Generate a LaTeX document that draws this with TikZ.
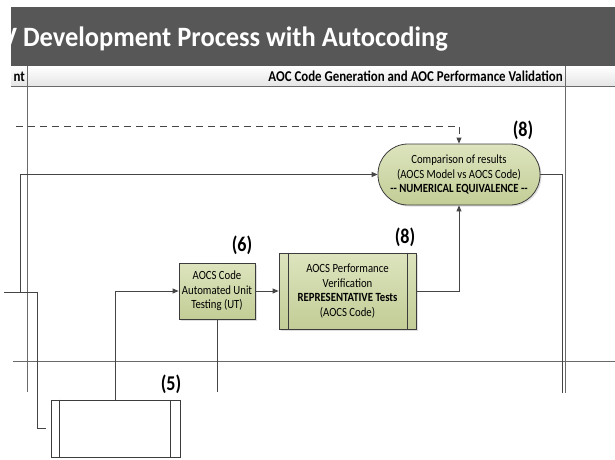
\documentclass[tikz,border=0pt]{standalone}
\usepackage{fontspec}
\setmainfont[FakeStretch=0.86]{Carlito}
\newfontfamily\titlefont[FakeStretch=0.945]{Carlito}
\usetikzlibrary{arrows.meta,shadows}

\definecolor{barGray}{HTML}{575757}
\definecolor{lineGray}{HTML}{454545}
\definecolor{laneGray}{HTML}{6A6A6A}
\definecolor{boxTop}{HTML}{DDE4BE}
\definecolor{boxBot}{HTML}{C2CD96}
\definecolor{boxEdge}{HTML}{3C3C3C}

\tikzset{
  conn/.style={draw=lineGray, line width=0.9pt},
  arr/.style={conn, -{Triangle[length=6pt,width=5pt]}},
  lane/.style={draw=laneGray, line width=0.8pt},
  task/.style={draw=boxEdge, line width=0.8pt, top color=boxTop, bottom color=boxBot,
    align=center, inner sep=0pt, font=\fontsize{12.5}{14.5}\selectfont,
    drop shadow={shadow xshift=1.5pt, shadow yshift=-1.5pt, opacity=0.25}},
  plainbox/.style={draw=boxEdge, line width=0.8pt, fill=white, inner sep=0pt},
  stepno/.style={font=\bfseries\fontsize{21}{23}\selectfont, inner sep=0pt},
}

\begin{document}
\begin{tikzpicture}[x=1pt, y=-1pt]
\useasboundingbox (0,0) rectangle (615,459);

% title bar, its text cut off at the bar's left edge
\fill[barGray] (11,7) rectangle (615,66);
\begin{scope}
  \clip (11,7) rectangle (615,66);
  \node[anchor=base east, text=white, inner sep=0pt,
        font=\titlefont\bfseries\fontsize{28}{32}\selectfont] (title) at (448,46)
    {V Development Process with Autocoding};
\end{scope}

% lane header row
\shade[top color=white, bottom color=black!10] (11,66) rectangle (615,86);
\draw[lane] (11,86) -- (615,86);
\node[anchor=base east, inner sep=0pt, font=\bfseries\fontsize{15}{16}\selectfont]
  (hleft) at (25,81) {nt};
\node[anchor=base east, inner sep=0pt, font=\bfseries\fontsize{15}{16}\selectfont]
  (hright) at (563,81) {AOC Code Generation and AOC Performance Validation};

% lane separators
\draw[lane] (27,66) -- (27,392);
\draw[lane] (565,66) -- (565,393);
\draw[lane] (13,361) -- (615,361);

% process boxes
\node[task, rounded corners=30pt, minimum width=162pt, minimum height=61pt] (cmp) at (459,174.5)
  {Comparison of results\\(AOCS Model vs AOCS Code)\\\textbf{-{}- NUMERICAL EQUIVALENCE -{}-}};
\node[task, minimum width=76pt, minimum height=56pt] (ut) at (217,291)
  {AOCS Code\\Automated Unit\\Testing (UT)};
\node[task, minimum width=137pt, minimum height=76pt] (perf) at (347.5,291)
  {AOCS Performance\\Verification\\\textbf{REPRESENTATIVE Tests}\\(AOCS Code)};
\draw[boxEdge, line width=0.8pt] ([xshift=10pt]perf.north west) -- ([xshift=10pt]perf.south west);
\draw[boxEdge, line width=0.8pt] ([xshift=-9pt]perf.north east) -- ([xshift=-9pt]perf.south east);

\node[plainbox, minimum width=129pt, minimum height=57pt] (gen) at (115.5,428.5) {};
\draw[boxEdge, line width=0.8pt] ([xshift=9pt]gen.north west) -- ([xshift=9pt]gen.south west);
\draw[boxEdge, line width=0.8pt] ([xshift=-10pt]gen.north east) -- ([xshift=-10pt]gen.south east);

% step numbers
\node[stepno] (n8a) at (523,130) {(8)};
\node[stepno] (n6) at (242,245) {(6)};
\node[stepno] (n8b) at (405,237) {(8)};
\node[stepno] (n5) at (171,384) {(5)};

% loose connector ends
\coordinate (dashIn) at (16,126);
\coordinate (leftIn) at (4,292);
\coordinate (utOut) at (217,392);
\coordinate (cmpOut) at (562,393);

% connectors
\draw[arr, dashed, dash pattern=on 7pt off 5pt] (dashIn) -- (cmp.north |- dashIn) -- (cmp.north);
\draw[arr] (leftIn) -- (20,292) |- (cmp.west);
\draw[conn, shorten >=5pt] (leftIn) -- (37,292) |- (gen.west);
\draw[arr] (gen.north) |- (ut.west);
\draw[arr] (ut.east) -- (perf.west);
\draw[arr] (perf.east) -| (cmp.south);
\draw[conn] (cmp.east) -| (cmpOut);
\draw[conn] (ut.south) -- (utOut);
\end{tikzpicture}
\end{document}
